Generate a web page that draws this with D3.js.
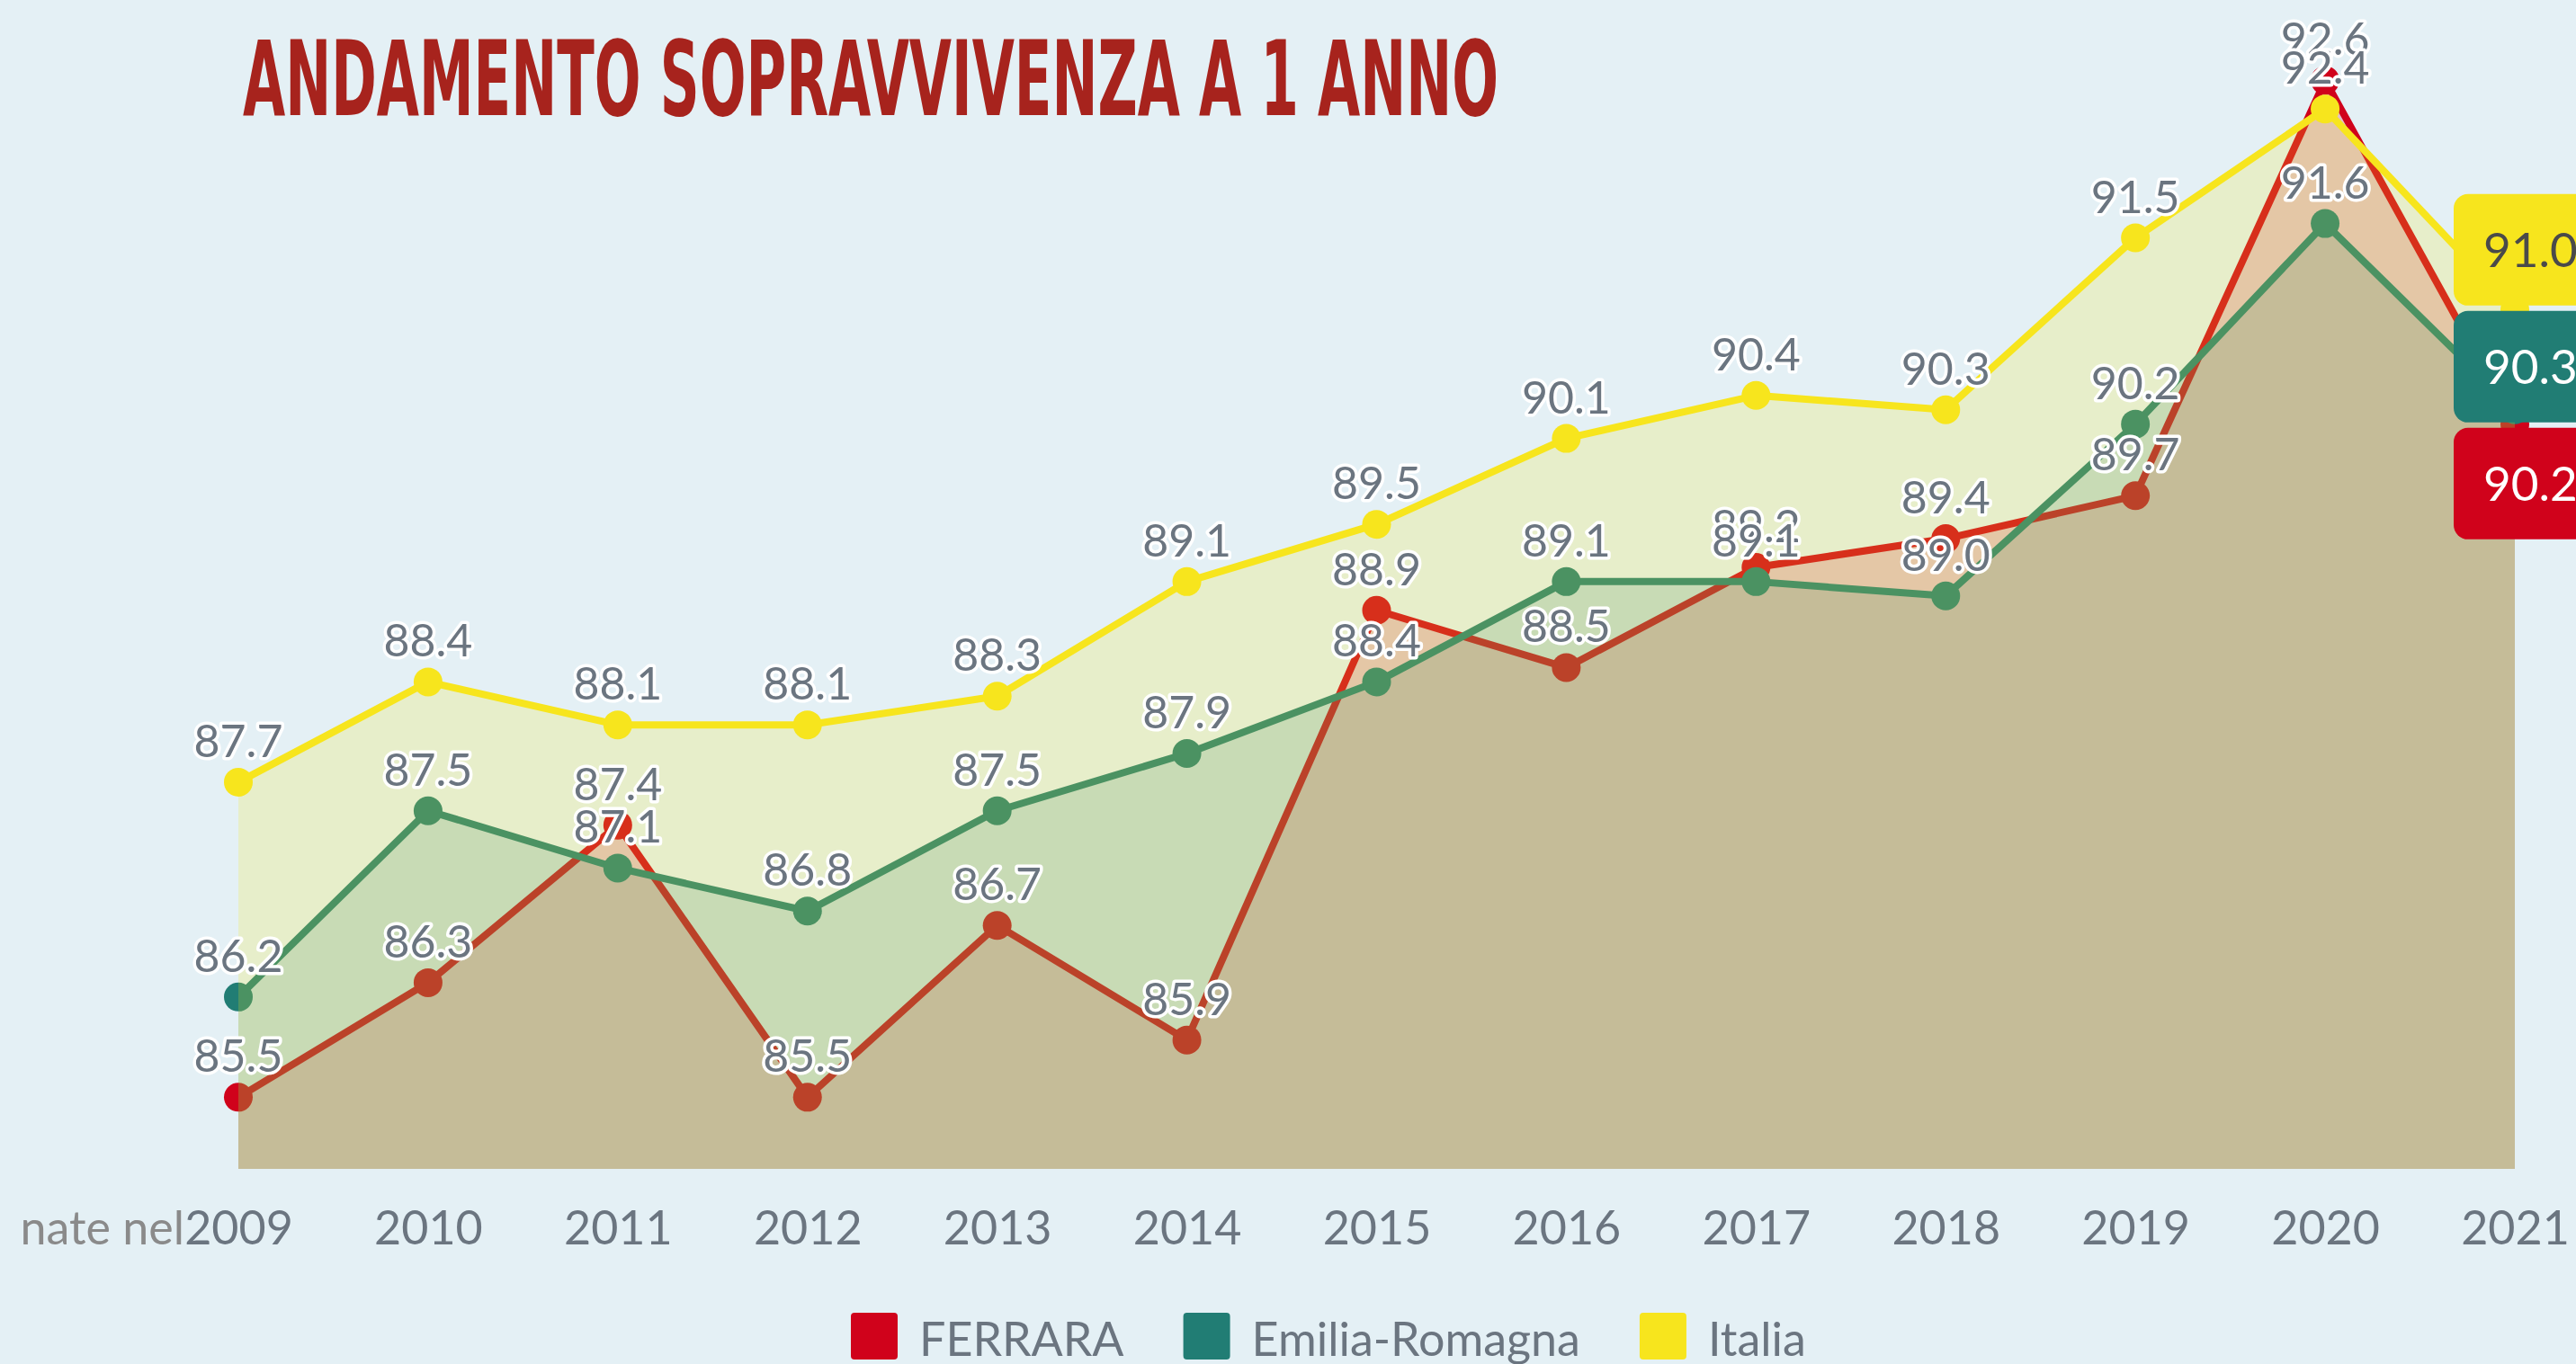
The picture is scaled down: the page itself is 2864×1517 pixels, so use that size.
<!DOCTYPE html>
<html>
<head>
<meta charset="utf-8">
<script src="https://cdn.jsdelivr.net/npm/d3@7"></script>
<style>
  body { margin: 0; background: #e4f0f5; overflow: hidden; }
  text { font-family: Lato, "Open Sans", sans-serif; }
</style>
</head>
<body>
<svg id="chart"></svg>
<script>
// data
const years = [2009, 2010, 2011, 2012, 2013, 2014, 2015, 2016, 2017, 2018, 2019, 2020, 2021];
const ferrara = [85.5, 86.3, 87.4, 85.5, 86.7, 85.9, 88.9, 88.5, 89.2, 89.4, 89.7, 92.6, 90.2];
const emiliaRomagna = [86.2, 87.5, 87.1, 86.8, 87.5, 87.9, 88.4, 89.1, 89.1, 89.0, 90.2, 91.6, 90.3];
const italia = [87.7, 88.4, 88.1, 88.1, 88.3, 89.1, 89.5, 90.1, 90.4, 90.3, 91.5, 92.4, 91.0];
const seriesNames = ["FERRARA", "Emilia-Romagna", "Italia"];
const seriesColors = ["#d0021b", "#217d74", "#f7e51d"];

const W = 2864, H = 1517;
const baseValue = 85;

const svg = d3.select("#chart").attr("width", W).attr("height", H);
svg.append("rect").attr("width", W).attr("height", H).attr("fill", "#e4f0f5");

const series = [ferrara, emiliaRomagna, italia].map((values, k) => ({
    name: seriesNames[k],
    color: seriesColors[k],
    values: values
}));

const x = d3.scalePoint().domain(years).range([265, 2796]);
const y = d3.scaleLinear().domain([baseValue, 93]).range([1300, 25.6]);

// title
svg.append("text")
    .attr("x", 270)
    .attr("y", 128)
    .attr("textLength", 1396)
    .attr("lengthAdjust", "spacingAndGlyphs")
    .style("font-family", "'DejaVu Sans Condensed', 'Liberation Sans Narrow', sans-serif")
    .style("font-stretch", "condensed")
    .style("font-weight", "bold")
    .style("font-size", "115px")
    .attr("fill", "#a7231d")
    .text("ANDAMENTO SOPRAVVIVENZA A 1 ANNO");

// each series: area (semi transparent) under its own line, but over earlier lines
const area = d3.area()
    .x((d, i) => x(years[i]))
    .y0(y(baseValue))
    .y1(d => y(d));

const line = d3.line()
    .x((d, i) => x(years[i]))
    .y(d => y(d));

series.forEach(s => {
    const g = svg.append("g").attr("class", "series");
    g.append("path")
        .attr("d", area(s.values))
        .attr("fill", s.color)
        .attr("fill-opacity", 0.2);
    g.append("path")
        .attr("d", line(s.values))
        .attr("fill", "none")
        .attr("stroke", s.color)
        .attr("stroke-width", 8)
        .attr("stroke-linejoin", "round");
    g.selectAll("circle")
        .data(s.values)
        .join("circle")
        .attr("cx", (d, i) => x(years[i]))
        .attr("cy", d => y(d))
        .attr("r", 16)
        .attr("fill", s.color);
});

// x axis
const xAxis = svg.append("g")
    .attr("transform", `translate(0,${y(baseValue)})`)
    .call(d3.axisBottom(x).tickSize(0));
xAxis.select(".domain").remove();
xAxis.selectAll("text")
    .attr("y", 84)
    .attr("dy", 0)
    .style("font-family", "Lato, sans-serif")
    .style("font-size", "52px")
    .attr("fill", "#6b7580");

svg.append("text")
    .attr("x", 205)
    .attr("y", 1384)
    .attr("text-anchor", "end")
    .style("font-size", "52px")
    .attr("fill", "#8a8a8a")
    .text("nate nel");

// value labels (all but the last year)
series.forEach(s => {
    svg.append("g").selectAll("text")
        .data(s.values.slice(0, -1))
        .join("text")
        .attr("x", (d, i) => x(years[i]))
        .attr("y", d => y(d) - 28)
        .attr("text-anchor", "middle")
        .style("font-size", "50px")
        .attr("fill", "#6b7580")
        .attr("stroke", "#fff")
        .attr("stroke-width", 7)
        .attr("stroke-linejoin", "round")
        .style("paint-order", "stroke")
        .text(d => d.toFixed(1));
});

// end labels in boxes, stacked around the mean of the last values
const boxH = 124, boxGap = 6;
const lastVals = series.map(s => ({ s: s, v: s.values[s.values.length - 1] }))
    .sort((a, b) => b.v - a.v);
const meanY = d3.mean(lastVals, d => y(d.v)) - 16;
const boxTop = meanY - (lastVals.length * boxH + (lastVals.length - 1) * boxGap) / 2;
lastVals.forEach((d, k) => {
    const by = boxTop + k * (boxH + boxGap);
    svg.append("rect")
        .attr("x", 2728)
        .attr("y", by)
        .attr("width", 200)
        .attr("height", boxH)
        .attr("rx", 16)
        .attr("fill", d.s.color);
    svg.append("text")
        .attr("x", 2761)
        .attr("y", by + boxH / 2 + 19)
        .style("font-size", "53px")
        .attr("fill", d.s.name === "Italia" ? "#4a4a4a" : "#fff")
        .text(d.v.toFixed(1));
});

// legend
const legend = svg.append("g").attr("transform", "translate(946,1460)");
let lx = 0;
series.forEach(s => {
    legend.append("rect")
        .attr("x", lx)
        .attr("y", 0)
        .attr("width", 52)
        .attr("height", 52)
        .attr("rx", 4)
        .attr("fill", s.color);
    const t = legend.append("text")
        .attr("x", lx + 76)
        .attr("y", 48)
        .style("font-size", "52px")
        .attr("fill", "#6b7580")
        .text(s.name);
    lx += 76 + t.node().getComputedTextLength() + 66;
});
</script>
</body>
</html>
